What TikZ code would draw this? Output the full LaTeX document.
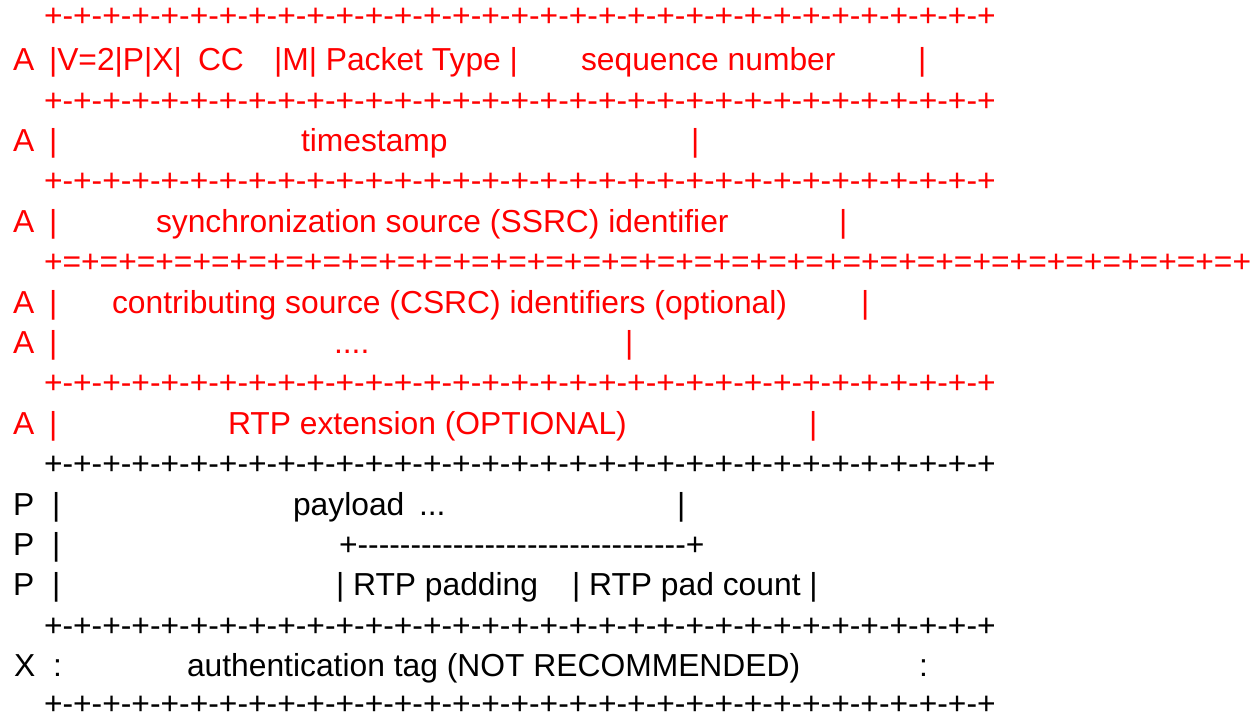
\documentclass[tikz,border=0pt]{standalone}
\usepackage{fontspec}
% plain family: no TeX ligatures, so runs of hyphens stay hyphens
\newfontfamily\asc{Liberation Sans}
\definecolor{hdrred}{RGB}{255,0,0}
\def\plusrule{+-+-+-+-+-+-+-+-+-+-+-+-+-+-+-+-+-+-+-+-+-+-+-+-+-+-+-+-+-+-+-+-+}
\def\eqrule{+=+=+=+=+=+=+=+=+=+=+=+=+=+=+=+=+=+=+=+=+=+=+=+=+=+=+=+=+=+=+=+=+}
\def\padrule{+-------------------------------+}
\tikzset{
  txt/.style={anchor=base west, inner sep=0pt, outer sep=0pt,
              font=\asc\fontsize{31.8}{38}\selectfont},
  hdr/.style={txt, text=hdrred},
  body/.style={txt, text=black},
  rulerow/.style={text depth=0pt},
}
\begin{document}
\begin{tikzpicture}[x=1pt, y=-1pt]
\useasboundingbox (0,0) rectangle (1252,718);
% ---- RTP header (red) ----
\node[hdr, rulerow] (b0) at (44,26) {\plusrule};
\node[hdr] (a1) at (13,70.7) {A};
\node[hdr] (f1) at (49,70.7) {|V=2|P|X|};
\node[hdr] (cc) at (198,70.7) {CC};
\node[hdr] (pt) at (274,70.7) {|M| Packet Type |};
\node[hdr] (sn) at (581,70.7) {sequence number};
\node[hdr] (e1) at (918,70.7) {|};
\node[hdr, rulerow] (b2) at (44,111.5) {\plusrule};
\node[hdr] (a3) at (13,151.5) {A};
\node[hdr] (l3) at (49,151.5) {|};
\node[hdr] (ts) at (301,151.5) {timestamp};
\node[hdr] (e3) at (691,151.5) {|};
\node[hdr, rulerow] (b4) at (44,191.9) {\plusrule};
\node[hdr] (a5) at (13,232.3) {A};
\node[hdr] (l5) at (49,232.3) {|};
\node[hdr] (ss) at (156,232.3) {synchronization source (SSRC) identifier};
\node[hdr] (e5) at (839,232.3) {|};
\node[hdr, rulerow] (b6) at (44,272.7) {\eqrule};
\node[hdr] (a7) at (13,313.1) {A};
\node[hdr] (l7) at (49,313.1) {|};
\node[hdr] (cs) at (112,313.1) {contributing source (CSRC) identifiers (optional)};
\node[hdr] (e7) at (861,313.1) {|};
\node[hdr] (a8) at (13,353.5) {A};
\node[hdr] (l8) at (49,353.5) {|};
\node[hdr] (dd) at (334,353.5) {....};
\node[hdr] (e8) at (625,353.5) {|};
\node[hdr, rulerow] (b9) at (44,393.9) {\plusrule};
\node[hdr] (a10) at (13,434.3) {A};
\node[hdr] (l10) at (49,434.3) {|};
\node[hdr] (ext) at (228,434.3) {RTP extension (OPTIONAL)};
\node[hdr] (e10) at (809,434.3) {|};
% ---- payload and trailer (black) ----
\node[body, rulerow] (b11) at (44,474.7) {\plusrule};
\node[body] (p12) at (13,515.1) {P};
\node[body] (l12) at (52,515.1) {|};
\node[body] (pl) at (293,515.1) {payload};
\node[body] (pd) at (419,515.1) {...};
\node[body] (e12) at (677,515.1) {|};
\node[body] (p13) at (13,555.5) {P};
\node[body] (l13) at (52,555.5) {|};
\node[body, rulerow] (pr) at (339,555.5) {\padrule};
\node[body] (p14) at (13,595.9) {P};
\node[body] (l14) at (52,595.9) {|};
\node[body] (pad) at (336,595.9) {| RTP padding};
\node[body] (pc) at (572,595.9) {| RTP pad count |};
\node[body, rulerow] (b15) at (44,636.3) {\plusrule};
\node[body] (x16) at (14,676.7) {X};
\node[body] (c16) at (53,676.7) {:};
\node[body] (at) at (187,676.7) {authentication tag (NOT RECOMMENDED)};
\node[body] (e16) at (919,676.7) {:};
\node[body, rulerow] (b17) at (44,714) {\plusrule};
\end{tikzpicture}
\end{document}
